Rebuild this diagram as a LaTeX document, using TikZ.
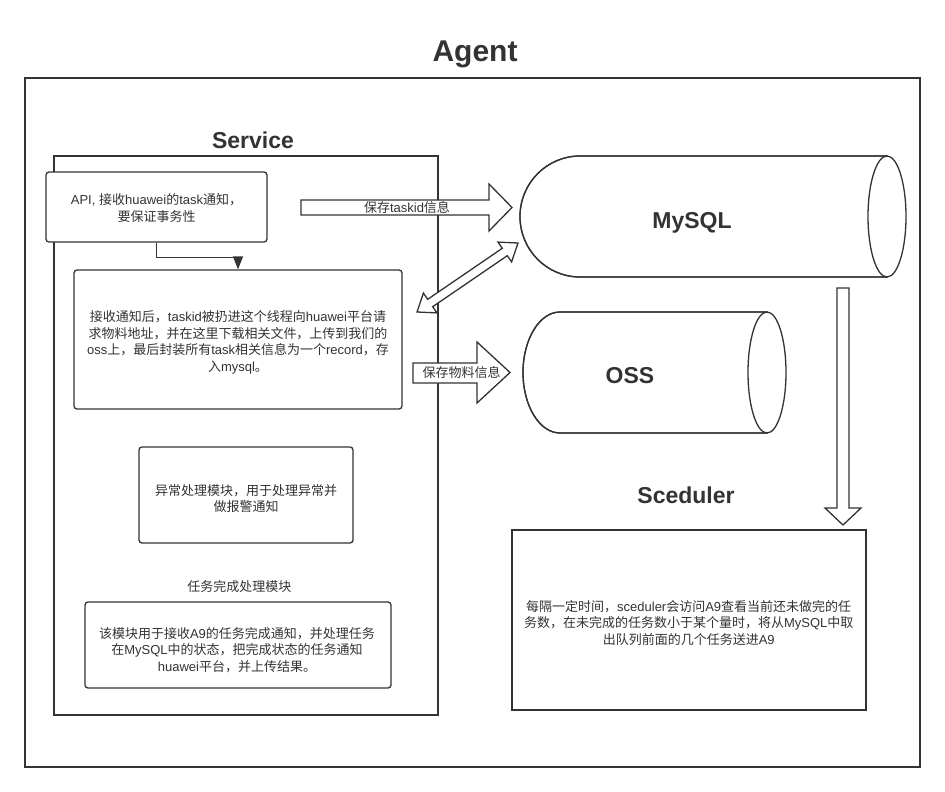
\documentclass[tikz,border=0pt]{standalone}
\usepackage{fontspec}
\setmainfont{Noto Sans CJK SC}
\newfontfamily\latf{Liberation Sans}
\newcommand\EN[1]{{\latf #1}}
\usetikzlibrary{arrows.meta,calc}
\definecolor{ink}{HTML}{333333}
\tikzset{
  outline/.style={draw=ink, line width=1.6pt},
  boxr/.style={draw=ink, line width=1.3pt, rounded corners=3pt, inner sep=0pt, fill=white},
  boxs/.style={draw=ink, line width=1.3pt, inner sep=0pt, fill=white},
  txt/.style={text=ink, align=center, inner sep=0pt, font=\fontsize{13}{16.5}\selectfont},
  ttl/.style={text=ink, inner sep=0pt, anchor=base, font=\latf\bfseries\fontsize{23}{26}\selectfont},
  blockarrow/.style={draw=ink, line width=1.3pt, fill=white, line join=miter},
  cyl/.style={draw=ink, line width=1.3pt, fill=white},
}
\begin{document}
\begin{tikzpicture}[x=1pt,y=-1pt]
\useasboundingbox (0,0) rectangle (945,792);
\fill[white] (0,0) rectangle (945,792);

% Agent frame
\draw[outline] (25,78) rectangle (920,767);
\node[ttl, font=\latf\bfseries\fontsize{30}{34}\selectfont] (agentT) at (475,61.7) {Agent};

% Service frame
\draw[outline] (54,156) rectangle (438,715);
\node[ttl] (serviceT) at (253,148.3) {Service};

% API box
\node[boxr, minimum width=221pt, minimum height=70pt] (api) at (156.5,207) {};
\node[txt] (apiT) at (156.5,208) {\EN{API, }接收\EN{huawei}的\EN{task}通知，\\要保证事务性};

% process box
\node[boxr, minimum width=328pt, minimum height=139pt] (proc) at (238,339.5) {};
\node[txt] (procT) at (238,342.5) {接收通知后，\EN{taskid}被扔进这个线程向\EN{huawei}平台请\\求物料地址，并在这里下载相关文件，上传到我们的\\\EN{oss}上，最后封装所有\EN{task}相关信息为一个\EN{record}，存\\入\EN{mysql}。};

% elbow connector
\draw[draw=ink, line width=1.3pt, -{Triangle[length=13pt,width=10pt]}] (api.south) -- ++(0,14.7) -| (proc.north);

% exception box
\node[boxr, minimum width=214pt, minimum height=96pt] (exc) at (246,495) {};
\node[txt] (excT) at (246,498.5) {异常处理模块，用于处理异常并\\做报警通知};

% finish module
\node[txt] (finL) at (239.3,586.7) {任务完成处理模块};
\node[boxr, minimum width=306pt, minimum height=86pt] (fin) at (238,645) {};
\node[txt] (finT) at (237,650) {该模块用于接收\EN{A9}的任务完成通知，并处理任务\\在\EN{MySQL}中的状态，把完成状态的任务通知\\\EN{huawei}平台，并上传结果。};

% MySQL cylinder
\path[cyl] (887,156) -- (580,156) .. controls (546.9,156) and (520,183) .. (520,216.5) .. controls (520,250) and (546.9,277) .. (580,277) -- (887,277) -- cycle;
\draw[cyl] (887,216.5) ellipse [x radius=19pt, y radius=60.5pt];
\draw[draw=ink, line width=1.3pt] (887,156) -- (580,156) .. controls (546.9,156) and (520,183) .. (520,216.5) .. controls (520,250) and (546.9,277) .. (580,277) -- (887,277);
\node[ttl] (mysqlT) at (692,228.3) {MySQL};

% OSS cylinder
\path[cyl] (767,312) -- (560,312) .. controls (539.6,312) and (523,339) .. (523,372.5) .. controls (523,406) and (539.6,433) .. (560,433) -- (767,433) -- cycle;
\draw[cyl] (767,372.5) ellipse [x radius=19pt, y radius=60.5pt];
\draw[draw=ink, line width=1.3pt] (767,312) -- (560,312) .. controls (539.6,312) and (523,339) .. (523,372.5) .. controls (523,406) and (539.6,433) .. (560,433) -- (767,433);
\node[ttl] (ossT) at (630,383.3) {OSS};

% block arrow: save taskid
\draw[blockarrow] (301,200) -- (489,200) -- (489,184) -- (512,207.5) -- (489,231) -- (489,215) -- (301,215) -- cycle;
\node[txt] (saveTask) at (407,208) {保存\EN{taskid}信息};

% block arrow: save material
\draw[blockarrow] (413,363) -- (477,363) -- (477,342) -- (510,372.5) -- (477,403) -- (477,383) -- (413,383) -- cycle;
\node[txt] (saveMat) at (461.7,373) {保存物料信息};

% double block arrow between process and MySQL
\draw[blockarrow] (417,312) -- (437.0,312.9) -- (432.7,306.7) -- (507.3,255.7) -- (511.6,261.9) -- (518,243) -- (498.0,242.1) -- (502.3,248.3) -- (427.7,299.3) -- (423.4,293.1) -- cycle;

% down block arrow MySQL -> scheduler
\draw[blockarrow] (837,288) -- (849,288) -- (849,508) -- (861,508) -- (843,525) -- (825,508) -- (837,508) -- cycle;

% Scheduler
\node[ttl] (schedT) at (686,503.3) {Sceduler};
\node[boxs, minimum width=354pt, minimum height=180pt] (sched) at (689,620) {};
\node[txt] (schedTx) at (688.7,622.7) {每隔一定时间，\EN{sceduler}会访问\EN{A9}查看当前还未做完的任\\务数，在未完成的任务数小于某个量时，将从\EN{MySQL}中取\\出队列前面的几个任务送进\EN{A9}};
\end{tikzpicture}
\end{document}
